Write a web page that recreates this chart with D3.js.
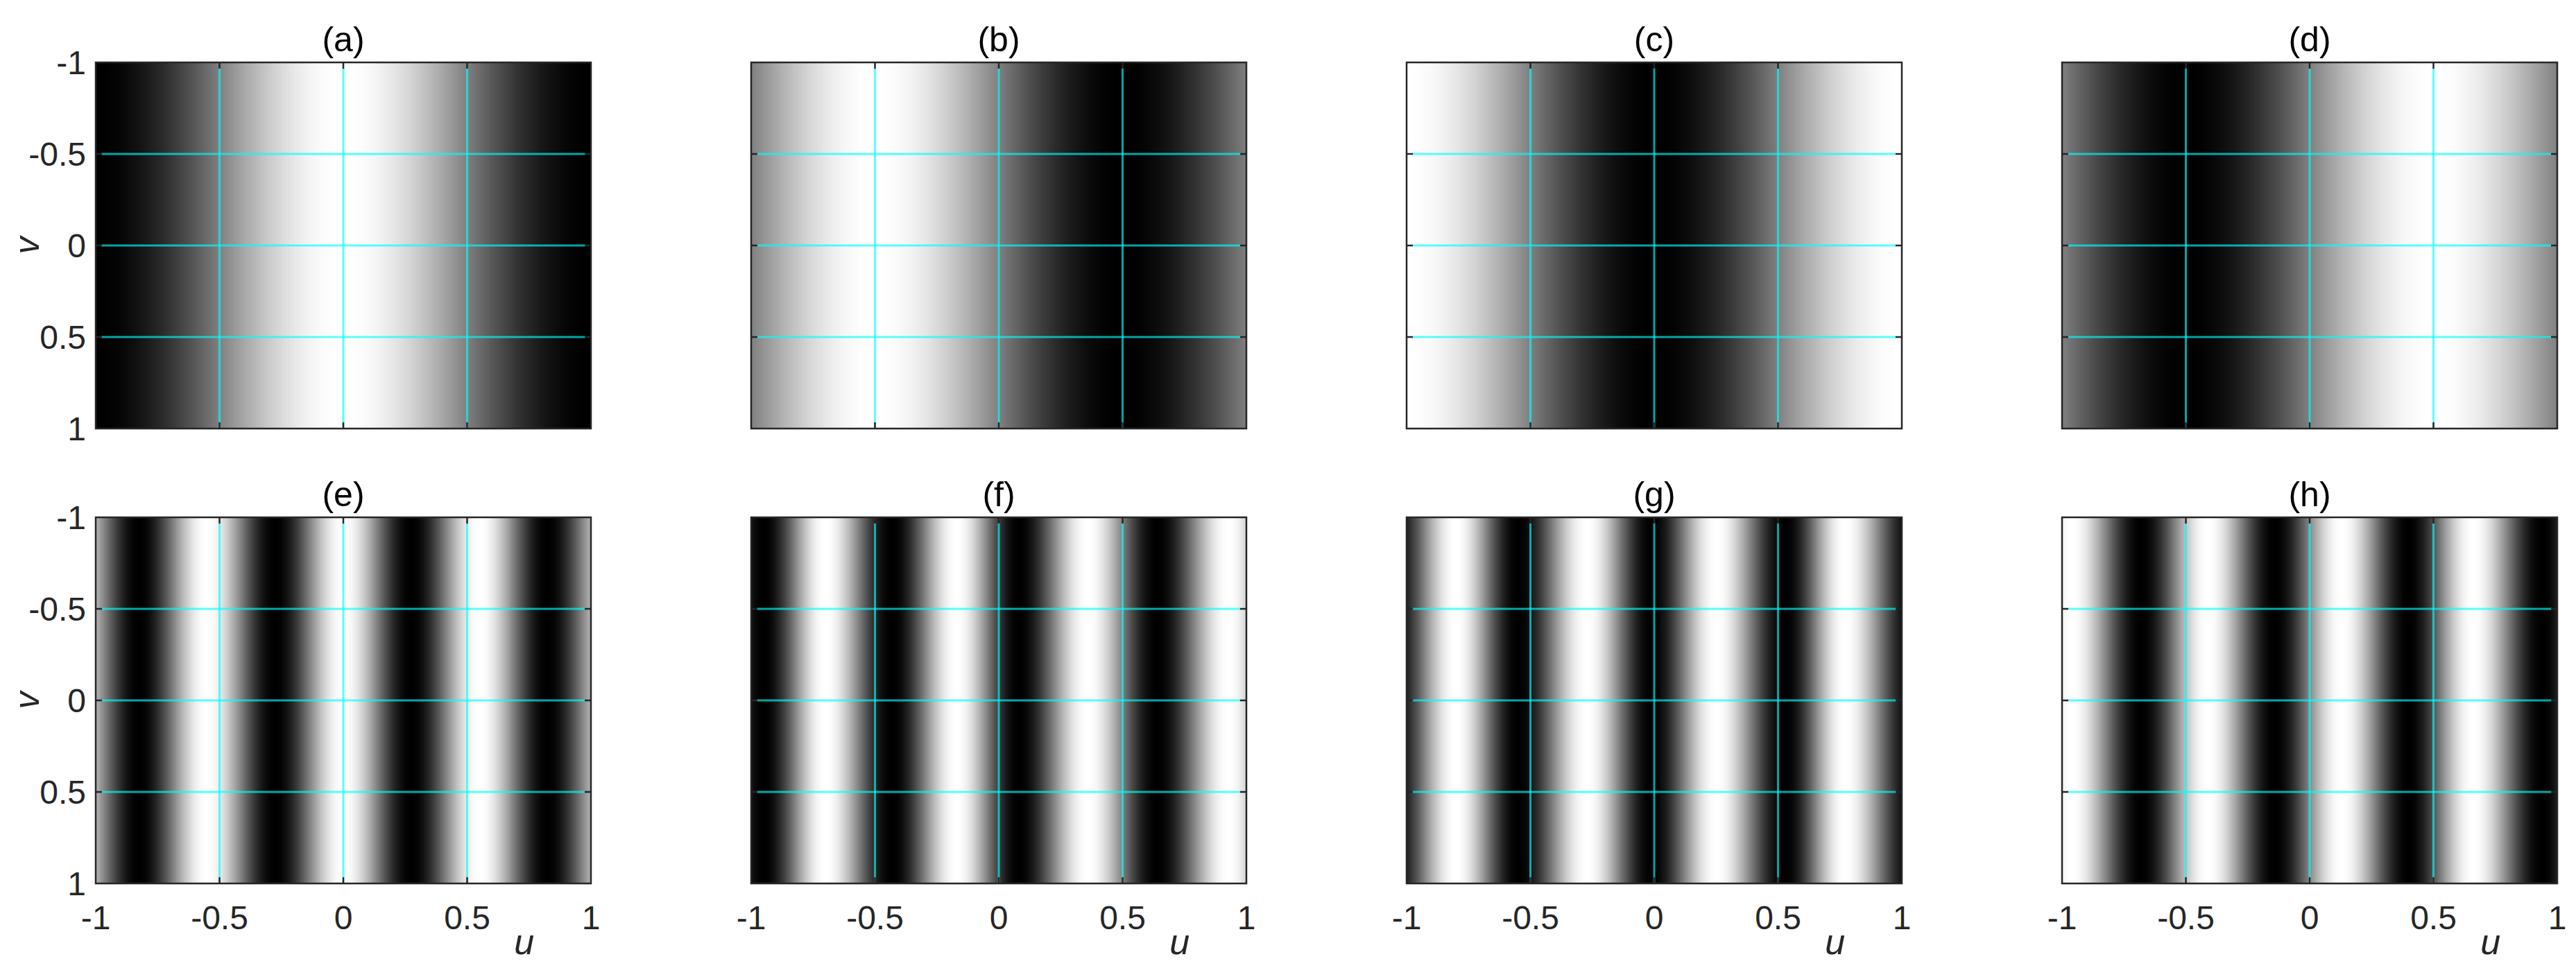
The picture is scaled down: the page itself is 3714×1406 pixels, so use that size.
<!DOCTYPE html>
<html><head><meta charset="utf-8">
<script src="https://cdn.jsdelivr.net/npm/d3@7"></script>
<style>body{margin:0;background:#fff}text{font-family:"Liberation Sans",Arial,sans-serif;fill:#262626}</style>
</head><body><svg id="c" width="3714" height="1406"></svg>
<script>
// Panel titles
const titles = ["(a)","(b)","(c)","(d)","(e)","(f)","(g)","(h)"];
// Positions (u) of intensity maxima (white) and minima (black)
const whites = [
  [0],
  [-0.5, 1.5],
  [-1, 1],
  [-1.5, 0.5],
  [-1.1, -0.55, 0, 0.55, 1.1],
  [-1.22, -0.70, -0.17, 0.36, 0.93],
  [-0.80, -0.27, 0.25, 0.77],
  [-0.96, -0.41, 0.13, 0.66, 1.2]
];
const blacks = [
  [-1, 1],
  [-1.5, 0.5],
  [0],
  [-0.5, 1.5],
  [-0.825, -0.275, 0.275, 0.825],
  [-0.95, -0.43, 0.08, 0.64, 1.18],
  [-1.06, -0.55, -0.01, 0.53, 1.05],
  [-1.22, -0.68, -0.14, 0.40, 0.94]
];
const tickVals = [-1, -0.5, 0, 0.5, 1];
const tickLabels = ["-1", "-0.5", "0", "0.5", "1"];
const gridVals = [-0.5, 0, 0.5];

const svg = d3.select("#c");
const colLeft = [138, 1083, 2028, 2973], W = 714;
const rowTop = [90, 746], H = 528;

function profile(i){
  const pts = whites[i].map(u=>({u,g:1})).concat(blacks[i].map(u=>({u,g:0}))).sort((a,b)=>a.u-b.u);
  return u => {
    for (let k=0;k<pts.length-1;k++){
      const a=pts[k], b=pts[k+1];
      if (u>=a.u && u<=b.u){
        const t=d3.easeSinInOut((u-a.u)/(b.u-a.u));
        return a.g+(b.g-a.g)*t;
      }
    }
    return pts[0].g;
  };
}

titles.forEach((t,i)=>{
  const row = Math.floor(i/4), col = i%4;
  const x0 = colLeft[col], y0 = rowTop[row];
  const x = d3.scaleLinear().domain([-1,1]).range([x0, x0+W]);
  const y = d3.scaleLinear().domain([-1,1]).range([y0, y0+H]);
  const g = svg.append("g");
  const f = profile(i);
  const cols = d3.range(x0, x0+W, 2);
  g.selectAll("rect.px").data(cols).join("rect")
    .attr("x", d=>d).attr("y", y(-1)).attr("width", 2.5).attr("height", y(1)-y(-1))
    .attr("fill", d=>{const v=Math.round(255*f(x.invert(d+1))); return `rgb(${v},${v},${v})`;});
  g.selectAll("line.gx").data(gridVals).join("line")
    .attr("x1", d=>x(d)).attr("x2", d=>x(d)).attr("y1", y(-1)+8).attr("y2", y(1))
    .attr("stroke","#00ffff").attr("stroke-opacity",0.65).attr("stroke-width",3);
  g.selectAll("line.gy").data(gridVals).join("line")
    .attr("y1", d=>y(d)).attr("y2", d=>y(d)).attr("x1", x(-1)+8).attr("x2", x(1)-8)
    .attr("stroke","#00ffff").attr("stroke-opacity",0.65).attr("stroke-width",3);
  const tk = 9;
  gridVals.forEach(d=>{
    g.append("line").attr("x1",x(d)).attr("x2",x(d)).attr("y1",y(-1)).attr("y2",y(-1)+tk).attr("stroke","#262626").attr("stroke-width",2.5);
    g.append("line").attr("x1",x(d)).attr("x2",x(d)).attr("y1",y(1)).attr("y2",y(1)-tk).attr("stroke","#262626").attr("stroke-width",2.5);
    g.append("line").attr("y1",y(d)).attr("y2",y(d)).attr("x1",x(-1)).attr("x2",x(-1)+tk).attr("stroke","#262626").attr("stroke-width",2.5);
    g.append("line").attr("y1",y(d)).attr("y2",y(d)).attr("x1",x(1)).attr("x2",x(1)-tk).attr("stroke","#262626").attr("stroke-width",2.5);
  });
  g.append("rect").attr("x",x(-1)).attr("y",y(-1)).attr("width",W).attr("height",H)
    .attr("fill","none").attr("stroke","#262626").attr("stroke-width",2.5);
  g.append("text").attr("x",x(0)).attr("y",y0-16).attr("text-anchor","middle")
    .attr("font-size",50).style("fill","#000").text(t);
  if (col===0){
    g.selectAll("text.yt").data(tickVals).join("text")
      .attr("x", x0-14).attr("y", d=>y(d)+17).attr("text-anchor","end")
      .attr("font-size",48).text((d,k)=>tickLabels[k]);
    g.append("text").attr("transform",`translate(${x0-82},${y(0)}) rotate(-90)`)
      .attr("text-anchor","middle").attr("font-size",50).attr("font-style","italic").text("v");
  }
  if (row===1){
    g.selectAll("text.xt").data(tickVals).join("text")
      .attr("x", d=>x(d)).attr("y", y(1)+66).attr("text-anchor","middle")
      .attr("font-size",48).text((d,k)=>tickLabels[k]);
    g.append("text").attr("x",x(0.73)).attr("y",y(1)+102).attr("text-anchor","middle")
      .attr("font-size",52).attr("font-style","italic").text("u");
  }
});
</script></body></html>
